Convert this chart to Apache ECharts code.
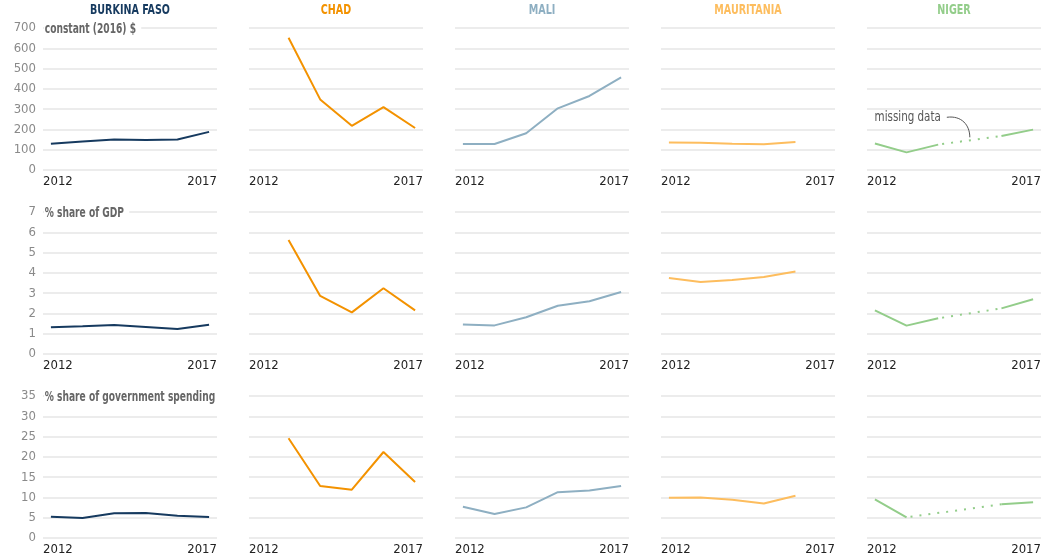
<!DOCTYPE html>
<html>
<head>
<meta charset="utf-8">
<script src="https://cdn.jsdelivr.net/npm/echarts@6/dist/echarts.min.js"></script>
<style>
html,body{margin:0;padding:0;background:#fff;}
#chart{width:1064px;height:559px;}
</style>
</head>
<body>
<div id="chart"></div>
<script>
const years = [2012, 2013, 2014, 2015, 2016, 2017];
const countries = ['BURKINA FASO', 'CHAD', 'MALI', 'MAURITANIA', 'NIGER'];
const countryColors = ['#163a5f', '#f39200', '#8eafc2', '#fdbd5e', '#93cd8a'];
const metricNames = ['constant (2016) $', '% share of GDP', '% share of government spending'];
const yMaxes = [700, 7, 35];
const yIntervals = [100, 1, 5];

// rows: Burkina Faso, Chad, Mali, Mauritania, Niger
const constantUsd = [
  [130, 140, 150, 148, 150, 188],
  [null, 652, 348, 218, 310, 207],
  [128, 128, 181, 304, 365, 457],
  [135, 134, 130, 127, 138, null],
  [131, 87, 125, null, 168, 199]
];
const shareGdp = [
  [1.32, 1.37, 1.43, 1.33, 1.23, 1.44],
  [null, 5.62, 2.86, 2.05, 3.24, 2.15],
  [1.45, 1.41, 1.81, 2.38, 2.60, 3.06],
  [3.75, 3.55, 3.65, 3.80, 4.07, null],
  [2.15, 1.40, 1.76, null, 2.25, 2.70]
];
const shareSpending = [
  [5.25, 4.93, 6.08, 6.15, 5.5, 5.18],
  [null, 24.6, 12.8, 11.9, 21.2, 13.8],
  [7.7, 5.9, 7.55, 11.3, 11.7, 12.8],
  [9.9, 10.0, 9.4, 8.5, 10.4, null],
  [9.5, 5.1, null, null, 8.3, 8.8]
];
const metrics = [constantUsd, shareGdp, shareSpending];
const noteText = 'missing data';

const FONT = '"DejaVu Sans Condensed", "Liberation Sans Narrow", "Noto Sans", sans-serif';

const grids = [], xAxes = [], yAxes = [], series = [], graphics = [];
const colLeft = 43, colStep = 206, colW = 174;
const rowTop = 28, rowStep = 184, rowH = 142;

countries.forEach((name, c) => {
  graphics.push({
    type: 'text', x: colLeft + c * colStep + colW / 2, y: 10, scaleX: 0.76, z: 100,
    style: {text: name, fill: countryColors[c], font: 'bold 14px ' + FONT, align: 'center', verticalAlign: 'middle'}
  });
});
metricNames.forEach((m, r) => {
  graphics.push({
    type: 'text', x: colLeft + 1, y: rowTop + r * rowStep + 1, scaleX: 0.75, z: 100,
    style: {text: m, fill: '#666', font: 'bold 13.5px ' + FONT, align: 'left', verticalAlign: 'middle',
            backgroundColor: '#fff', padding: [2, 7, 2, 1]}
  });
});

for (let r = 0; r < 3; r++) {
  for (let c = 0; c < 5; c++) {
    const idx = r * 5 + c;
    grids.push({left: colLeft + c * colStep, top: rowTop + r * rowStep, width: colW, height: rowH});
    xAxes.push({
      type: 'value', gridIndex: idx, min: 2011.75, max: 2017.25,
      axisLine: {show: false}, axisTick: {show: false}, splitLine: {show: false},
      axisLabel: {
        customValues: [2011.75, 2017.25],
        formatter: v => (v < 2015 ? String(years[0]) : String(years[years.length - 1])),
        alignMinLabel: 'left', alignMaxLabel: 'right',
        fontFamily: FONT, fontSize: 13, color: '#222', margin: 5
      }
    });
    yAxes.push({
      type: 'value', gridIndex: idx, min: 0, max: yMaxes[r], interval: yIntervals[r],
      axisLine: {show: false}, axisTick: {show: false},
      splitLine: {show: true, lineStyle: {color: '#e6e6e6', width: 1.5}},
      axisLabel: {show: c === 0, fontFamily: FONT, fontSize: 13, color: '#8a8a8a', margin: 7}
    });
    const vals = metrics[r][c];
    const pts = years.map((y, i) => [y, vals[i] == null ? '-' : vals[i]]);
    series.push({
      type: 'line', xAxisIndex: idx, yAxisIndex: idx, data: pts,
      showSymbol: false, symbol: 'none', connectNulls: false,
      lineStyle: {color: countryColors[c], width: 2}, silent: true, z: 3
    });
    // bridge gaps with a dotted line
    for (let i = 1; i < vals.length; i++) {
      if (vals[i] == null && vals[i - 1] != null) {
        let j = i;
        while (j < vals.length && vals[j] == null) j++;
        if (j < vals.length) {
          series.push({
            type: 'line', xAxisIndex: idx, yAxisIndex: idx,
            data: [[years[i - 1], vals[i - 1]], [years[j], vals[j]]],
            showSymbol: false, symbol: 'none',
            lineStyle: {color: countryColors[c], width: 2, type: [2, 7], dashOffset: -4}, silent: true, z: 2
          });
        }
      }
    }
  }
}

const chart = echarts.init(document.getElementById('chart'));
chart.setOption({
  animation: false,
  grid: grids,
  xAxis: xAxes,
  yAxis: yAxes,
  series: series
});

// annotation for missing Niger value (row 1)
const nv = constantUsd[4];
const mid = (nv[2] + nv[4]) / 2;
const A = chart.convertToPixel({gridIndex: 4}, [years[3], mid]);
graphics.push(
  {type: 'text', x: A[0] - 29, y: A[1] - 23, scaleX: 0.82, z: 100,
   style: {text: noteText, fill: '#555', font: '14px ' + FONT, align: 'right', verticalAlign: 'middle'}},
  {type: 'bezierCurve', z: 100,
   shape: {x1: A[0] - 23, y1: A[1] - 23, cpx1: A[0] - 8, cpy1: A[1] - 25, cpx2: A[0], cpy2: A[1] - 15, x2: A[0], y2: A[1] - 3},
   style: {stroke: '#555', lineWidth: 1, fill: 'none'}}
);
chart.setOption({graphic: graphics});
</script>
</body>
</html>
